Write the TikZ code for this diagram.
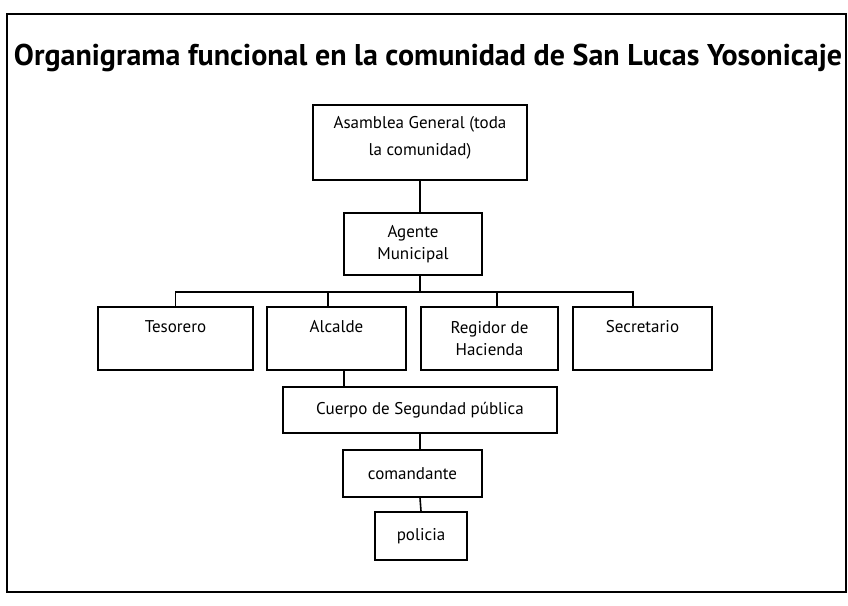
\documentclass[tikz,border=0pt]{standalone}
\usepackage{fontspec}
\setmainfont{PT Sans}
\begin{document}
\begin{tikzpicture}[x=1pt,y=-1pt,line width=1.6pt,
    cargo/.style={draw,inner sep=0pt,align=center,font=\fontsize{17}{22}\selectfont},
    arriba/.style={cargo,text height=25pt,text depth=38pt}]
  \useasboundingbox (0,0) rectangle (848,605);
  \draw (7,14) rectangle (846,592);
  \node [inner sep=0pt,font=\fontsize{30}{34}\selectfont\bfseries] (titulo) at (428,58)
    {Organigrama funcional en la comunidad de San Lucas Yosonicaje};
  % cabeza
  \node [cargo,minimum width=214pt,text height=50pt,text depth=25pt] (asamblea) at (420,142.5)
    {Asamblea General (toda\\[5pt]la comunidad)};
  \node [cargo,minimum width=138pt,minimum height=62pt] (agente) at (413,244)
    {Agente\\Municipal};
  % cargos
  \node [arriba,minimum width=155pt] (tesorero) at (175.5,338.5) {Tesorero};
  \node [arriba,minimum width=139pt] (alcalde) at (336.5,338.5) {Alcalde};
  \node [arriba,minimum width=137pt,text height=48pt,text depth=15pt] (regidor) at (489.5,338.5)
    {Regidor de\\Hacienda};
  \node [arriba,minimum width=139pt] (secretario) at (642.5,338.5) {Secretario};
  % seguridad
  \node [cargo,minimum width=274pt,minimum height=46pt] (cuerpo) at (420,410)
    {Cuerpo de Segundad pública};
  \node [cargo,minimum width=139pt,minimum height=47pt] (comandante) at (412.5,473.5) {comandante};
  \node [cargo,minimum width=92pt,minimum height=48pt] (policia) at (421,536) {policia};
  \coordinate (barra) at (420,292);
  \draw (asamblea.south) -- (asamblea.south |- agente.north);
  \draw (asamblea.south |- agente.south) -- (barra);
  \foreach \n/\dx in {tesorero/0,alcalde/-8.5,regidor/7.5,secretario/-9.5}
    \draw (barra) -| ([xshift=\dx]\n.north);
  \draw ([xshift=7.5]alcalde.south) -- ([xshift=7.5]alcalde.south |- cuerpo.north);
  \draw (cuerpo.south) -- (cuerpo.south |- comandante.north);
  \draw (cuerpo.south |- comandante.south) -- (policia.north);
\end{tikzpicture}
\end{document}
